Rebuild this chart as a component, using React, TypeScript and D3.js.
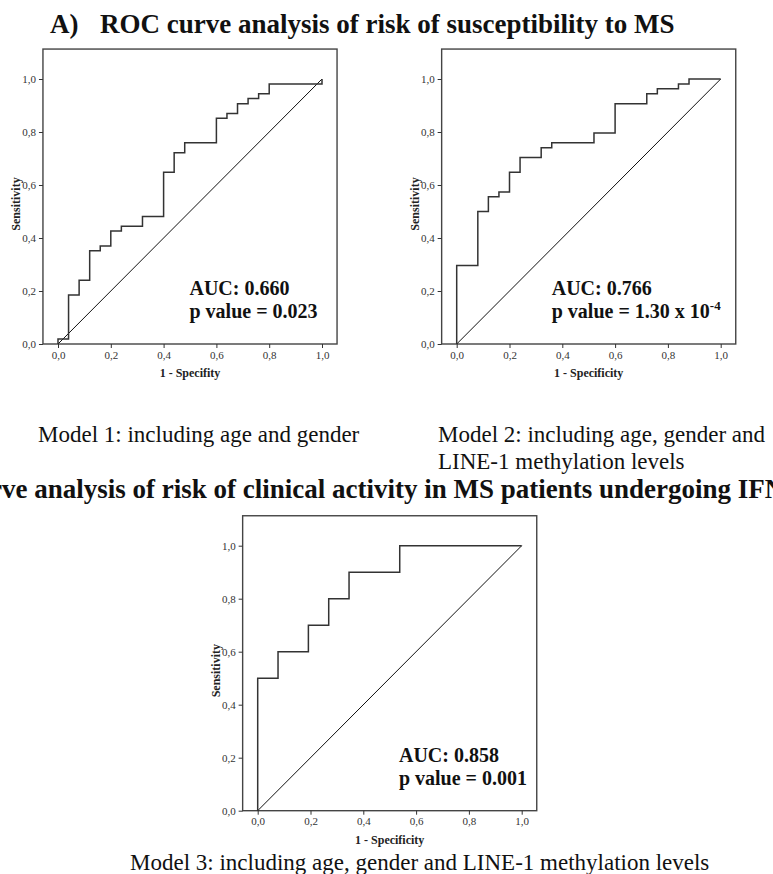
import React, { useRef, useEffect } from 'react';
import * as d3 from 'd3';

// ROC step curves, corner points
const model1Fpr = [0, 0, 0.04, 0.08, 0.12, 0.16, 0.2, 0.24, 0.32, 0.4, 0.44, 0.48, 0.6, 0.64, 0.68, 0.72, 0.76, 0.8, 1.0];
const model1Tpr = [0, 0.019, 0.185, 0.241, 0.352, 0.37, 0.426, 0.444, 0.481, 0.648, 0.722, 0.759, 0.852, 0.87, 0.907, 0.926, 0.944, 0.981, 1.0];

const model2Fpr = [0, 0, 0.08, 0.12, 0.16, 0.2, 0.24, 0.32, 0.36, 0.52, 0.6, 0.72, 0.76, 0.84, 0.88, 1.0];
const model2Tpr = [0, 0.296, 0.5, 0.556, 0.574, 0.648, 0.704, 0.741, 0.759, 0.796, 0.907, 0.944, 0.963, 0.981, 1.0, 1.0];

const model3Fpr = [0, 0, 0.077, 0.192, 0.269, 0.346, 0.538, 1.0];
const model3Tpr = [0, 0.5, 0.6, 0.7, 0.8, 0.9, 1.0, 1.0];

const tickValues = [0, 0.2, 0.4, 0.6, 0.8, 1.0];

const serif = '"Liberation Serif", "Times New Roman", serif';
const fmt = d3
  .formatLocale({ decimal: ',', thousands: '.', grouping: [3], currency: ['', ''] })
  .format('.1f');

const RocPanel = ({ x0, y0, fpr, tpr, xTitle, auc, pText, pSup, annX }) => {
  const xRef = useRef(null);
  const yRef = useRef(null);

  const xScale = d3.scaleLinear().domain([0, 1]).range([x0, x0 + 264]);
  const yScale = d3.scaleLinear().domain([0, 1]).range([y0, y0 - 265]);

  const left = xScale(-0.057);
  const right = xScale(1.057);
  const top = yScale(1.113);
  const bottom = yScale(0);

  useEffect(() => {
    const styleAxis = (g) => {
      g.select('.domain').remove();
      g.selectAll('line').attr('stroke', '#333').attr('stroke-width', 1);
      g.selectAll('text')
        .attr('fill', '#333')
        .style('font-family', serif)
        .style('font-size', '11px');
    };
    d3.select(xRef.current)
      .call(d3.axisBottom(xScale).tickValues(tickValues).tickFormat(fmt).tickSize(4).tickPadding(3))
      .call(styleAxis);
    d3.select(yRef.current)
      .call(d3.axisLeft(yScale).tickValues(tickValues).tickFormat(fmt).tickSize(4).tickPadding(3))
      .call(styleAxis);
  }, [x0, y0]);

  const pts = fpr.map((f, i) => [f, tpr[i]]);
  const step = d3
    .line()
    .x((d) => xScale(d[0]))
    .y((d) => yScale(d[1]))
    .curve(d3.curveStepAfter);
  const diag = d3
    .line()
    .x((d) => xScale(d))
    .y((d) => yScale(d));

  return (
    <g>
      <rect x={left} y={top} width={right - left} height={bottom - top} fill='white' stroke='#444' strokeWidth={1.4} />
      <path d={diag([0, 1])} fill='none' stroke='#111' strokeWidth={1} />
      <path d={step(pts)} fill='none' stroke='#333' strokeWidth={1.5} />
      <g ref={xRef} transform={`translate(0,${bottom})`} />
      <g ref={yRef} transform={`translate(${left},0)`} />
      <text x={xScale(0.5)} y={y0 + 33} textAnchor='middle' fontFamily={serif} fontWeight='bold' fontSize={12} fill='#222'>
        {xTitle}
      </text>
      <text
        transform={`translate(${left - 22.6},${y0 - 140}) rotate(-90)`}
        textAnchor='middle'
        fontFamily={serif}
        fontWeight='bold'
        fontSize={12}
        fill='#222'
      >
        Sensitivity
      </text>
      <g fontFamily={serif} fontWeight='bold' fontSize={20} fill='#111'>
        <text x={xScale(annX)} y={y0 - 49}>
          {auc}
        </text>
        <text x={xScale(annX)} y={y0 - 26}>
          {pText}
          {pSup && (
            <tspan dy={-8} fontSize={13}>
              {pSup}
            </tspan>
          )}
        </text>
      </g>
    </g>
  );
};

const App = () => {
  useEffect(() => {
    document.body.style.margin = '0';
  }, []);

  return (
    <svg width={773} height={874} style={{ display: 'block', background: 'white' }}>
      <g fontFamily={serif} fontWeight='bold' fontSize={27} fill='#111'>
        <text x={50} y={33}>A)</text>
        <text x={100} y={33}>ROC curve analysis of risk of susceptibility to MS</text>
        {/* section B title runs off both edges of the figure, as in the source */}
        <text x={2} y={498} textAnchor='end'>B)   ROC cur</text>
        <text x={2} y={498}>ve analysis of risk of clinical activity in MS patients undergoing IFN-β</text>
      </g>

      <RocPanel x0={58} y0={344} fpr={model1Fpr} tpr={model1Tpr} xTitle='1 - Specifity' auc='AUC: 0.660' pText='p value = 0.023' annX={0.498} />
      <RocPanel x0={456.7} y0={344} fpr={model2Fpr} tpr={model2Tpr} xTitle='1 - Specificity' auc='AUC: 0.766' pText='p value = 1.30 x 10' pSup='-4' annX={0.36} />
      <RocPanel x0={257.7} y0={810.7} fpr={model3Fpr} tpr={model3Tpr} xTitle='1 - Specificity' auc='AUC: 0.858' pText='p value = 0.001' annX={0.535} />

      <g fontFamily={serif} fontSize={23} fill='#111'>
        <text x={38} y={442}>Model 1: including age and gender</text>
        <text x={438} y={442}>Model 2: including age, gender and</text>
        <text x={438} y={469}>LINE-1 methylation levels</text>
        <text x={130} y={870}>Model 3: including age, gender and LINE-1 methylation levels</text>
      </g>
    </svg>
  );
};

export default App;
